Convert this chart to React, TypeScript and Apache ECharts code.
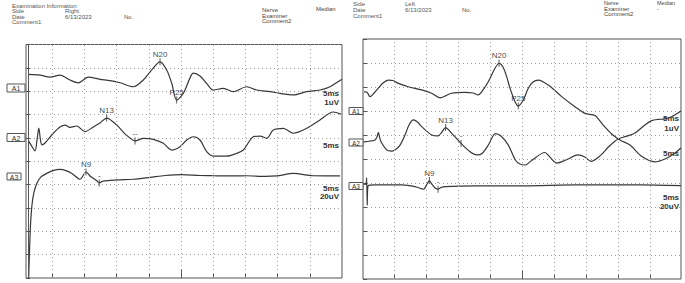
import React, { useEffect, useRef } from "react";
import * as echarts from "echarts";

type Pt = [number, number];

// time in ms (0–50, 5 ms/div), amplitude in grid divisions (0 bottom – 10 top)
const leftA1: Pt[] = [
  [1.3, 8.72], [3.11, 8.69], [4.66, 8.6], [6.21, 8.69], [7.76, 8.48], [9.05, 8.36], [10.61, 8.6],
  [12.42, 8.51], [13.98, 8.45], [15.53, 8.36], [17.59, 8.19], [19.15, 8.48], [20.45, 8.91],
  [21.74, 9.26], [22.78, 8.91], [23.56, 8.34], [24.33, 7.62], [25.36, 7.91], [26.4, 8.57],
  [26.91, 8.77], [27.95, 8.65], [29.04, 8.31], [30.01, 8.05], [31.57, 8.12], [33.12, 7.98],
  [35.2, 8.19], [36.75, 8.05], [38.82, 7.98], [40.37, 7.91], [42.44, 7.84], [44.52, 7.98],
  [46.58, 8.05], [48.14, 8.19], [49.69, 8.46], [50, 8.5],
];
const leftA2: Pt[] = [
  [1.32, 5.87], [1.82, 5.65], [2.33, 5.44], [2.64, 5.91], [2.92, 6.42], [3.18, 5.91], [3.42, 5.7],
  [3.88, 5.78], [5.17, 6.2], [6.21, 6.47], [6.99, 6.55], [7.76, 6.45], [8.8, 6.51], [10.09, 6.27],
  [11.38, 6.47], [12.42, 6.64], [13.46, 6.85], [15.02, 6.55], [16.3, 6.17], [17.34, 5.94],
  [17.86, 5.87], [19.15, 5.98], [20.7, 5.94], [22.25, 5.77], [23.56, 5.48], [24.84, 5.62],
  [25.89, 5.91], [26.91, 6.05], [27.95, 5.91], [28.99, 5.41], [30.02, 5.22], [32.1, 5.22],
  [33.65, 5.34], [34.67, 5.48], [36.23, 6.05], [37.27, 6.08], [38.31, 5.98], [39.33, 6.34],
  [40.89, 6.41], [42.44, 6.2], [44.52, 6.41], [46.58, 6.77], [48.65, 7.11], [49.84, 7.02],
];
const leftA3: Pt[] = [
  [1.29, -0.5], [1.48, 1.2], [1.63, 2.27], [1.86, 3.13], [2.17, 3.68], [2.64, 4.07], [3.26, 4.33],
  [4.15, 4.48], [5.12, 4.6], [6.21, 4.65], [7.14, 4.6], [8.07, 4.48], [9.32, 4.23], [10.25, 4.54],
  [10.87, 4.37], [11.38, 4.27], [11.96, 4.15], [12.31, 4.07], [12.89, 4.15], [15.02, 4.2],
  [17.59, 4.23], [20.19, 4.31], [22.52, 4.39], [25.11, 4.43], [27.95, 4.39], [30.02, 4.38],
  [33.07, 4.37], [35.2, 4.38], [38.04, 4.35], [39.86, 4.37], [42.44, 4.48], [45.54, 4.38],
  [49.69, 4.37],
];
const rightA1: Pt[] = [
  [0.31, 7.8], [0.73, 7.79], [1.25, 7.6], [1.88, 7.75], [2.55, 7.95], [3.28, 8.17], [4.11, 8.29],
  [4.84, 8.27], [5.67, 8.15], [7.23, 8.01], [9.33, 7.88], [10.89, 7.74], [12.19, 7.55],
  [13.95, 7.74], [16.09, 7.78], [17.34, 7.75], [18.17, 7.67], [18.91, 7.88], [19.73, 8.22],
  [20.78, 8.78], [21.41, 8.99], [22.03, 8.83], [22.66, 8.38], [23.13, 7.95], [23.91, 7.39],
  [24.42, 7.21], [25.2, 7.46], [25.98, 7.95], [26.72, 8.21], [27.58, 8.29], [29.11, 8.08],
  [31.2, 7.6], [33.28, 7.18], [34.84, 6.9], [36.41, 6.81], [37.66, 6.42], [39.02, 6.04],
  [40.31, 5.79], [41.88, 5.58], [43.75, 5.1], [45.78, 4.88], [47.34, 5.0], [48.91, 5.25],
  [49.84, 5.46],
];
const rightA2: Pt[] = [
  [0.31, 5.71], [1.25, 5.75], [2.03, 5.79], [2.34, 5.92], [2.55, 6.11], [2.73, 5.92], [2.97, 5.72],
  [3.86, 5.38], [4.53, 5.33], [5.16, 5.38], [5.94, 5.58], [6.72, 6.0], [7.34, 6.42], [8.02, 6.63],
  [8.67, 6.54], [9.33, 6.35], [10.89, 6.0], [11.88, 5.96], [12.5, 6.13], [13.05, 6.31],
  [14.02, 6.07], [14.69, 5.88], [15.47, 5.65], [16.88, 5.3], [17.97, 5.17], [18.75, 5.23],
  [19.73, 5.58], [20.86, 6.06], [21.72, 5.96], [22.86, 5.58], [23.95, 4.96], [24.69, 4.79],
  [25.52, 4.75], [26.41, 4.92], [28.59, 5.27], [29.06, 5.17], [30.47, 4.83], [31.88, 4.96],
  [33.75, 5.17], [34.84, 5.08], [35.78, 4.9], [37.19, 5.13], [38.55, 5.51], [40.0, 5.83],
  [41.25, 5.94], [42.66, 6.08], [44.22, 6.42], [45.27, 6.6], [46.25, 6.65], [47.34, 6.67],
  [48.44, 6.77], [49.84, 7.0],
];
const rightA3: Pt[] = [
  [0.31, 3.94], [0.63, 3.96], [0.72, 4.21], [0.81, 3.08], [0.94, 3.88], [2.03, 3.92], [6.25, 3.92],
  [8.28, 3.85], [9.64, 3.74], [10.08, 3.92], [10.52, 4.1], [10.94, 3.94], [11.45, 3.78],
  [11.88, 3.74], [12.34, 3.81], [13.02, 3.85], [17.66, 3.88], [25.47, 3.88], [33.28, 3.92],
  [43.75, 3.92], [49.84, 3.89],
];

const leftMarkerNames = ["N20", "P25", "N13", "--", "N9", "-"];
const leftMarkerTimes = [21.74, 24.33, 13.46, 17.86, 10.25, 12.31];
const leftMarkerValues = [9.26, 7.62, 6.85, 5.87, 4.54, 4.07];
const rightMarkerNames = ["N20", "P25", "N13", "-", "N9", "-"];
const rightMarkerTimes = [21.41, 24.42, 13.05, 15.47, 10.52, 11.88];
const rightMarkerValues = [8.99, 7.21, 6.31, 5.65, 4.1, 3.74];

const gridTimes = [5, 10, 15, 20, 25, 30, 35, 40, 45];

const FONT = "Liberation Sans, Arial, sans-serif";
const TRACE = "#383838";
const GRID = "#a0a0a0";
const FRAME = "#555";
const DOTS = [1, 3];

function txt(text: string, x: number, y: number, size = 6, color = "#555", align = "left", weight = "normal") {
  return {
    type: "text",
    x,
    y,
    silent: true,
    style: {
      text,
      fontSize: size,
      fontFamily: FONT,
      fontWeight: weight,
      fill: color,
      textAlign: align,
      textVerticalAlign: "middle",
    },
  };
}

function chBox(label: string, x: number, y: number, w: number, h: number, size: number) {
  return [
    { type: "rect", shape: { x, y, width: w, height: h }, silent: true, style: { fill: "#fff", stroke: FRAME, lineWidth: 1 } },
    txt(label, x + w / 2, y + h / 2 + 0.5, size, "#333", "center"),
  ];
}

export default function App() {
  const ref = useRef<HTMLDivElement>(null);
  useEffect(() => {
    document.body.style.margin = "0";
    if (!ref.current) return;
    const chart = echarts.init(ref.current, undefined, { renderer: "svg" });

    const lineCommon = {
      type: "line",
      showSymbol: false,
      smooth: 0.3,
      lineStyle: { color: TRACE, width: 1.2 },
      silent: true,
    };
    const gridMarkLine = (extra: any[]) => ({
      silent: true,
      symbol: "none",
      label: { show: false },
      data: [
        ...gridTimes.map((t) => ({ xAxis: t, lineStyle: { type: DOTS, color: GRID, width: 1 } })),
        ...extra,
      ],
    });
    const markerSeries = (idx: number, names: string[], times: number[], values: number[]) => ({
      type: "scatter",
      xAxisIndex: idx,
      yAxisIndex: idx,
      silent: true,
      symbol: "rect",
      symbolSize: [1, 7],
      itemStyle: { color: "#333" },
      label: {
        show: true,
        position: "top",
        distance: 0,
        formatter: "{b}",
        fontSize: 8,
        fontFamily: FONT,
        color: "#111",
        textBorderWidth: 0,
        textBorderColor: "transparent",
      },
      data: names.map((n, i) => ({
        name: n,
        value: [times[i], values[i]],
        itemStyle: { color: "#333" },
        label: { color: "#111" },
      })),
    });

    const xAx = (idx: number, min: number, max: number) => ({
      gridIndex: idx,
      type: "value",
      min,
      max,
      axisLine: { show: false },
      axisLabel: { show: false },
      axisTick: { show: true, inside: true, length: 4, customValues: gridTimes, lineStyle: { color: FRAME } },
      splitLine: { show: false },
    });
    const yAx = (idx: number) => ({
      gridIndex: idx,
      type: "value",
      min: 0,
      max: 10,
      interval: 1,
      axisLine: { show: false },
      axisLabel: { show: false },
      axisTick: { show: true, inside: true, length: 4, lineStyle: { color: FRAME } },
      splitLine: { show: true, lineStyle: { type: DOTS, color: GRID, width: 1 } },
    });

    const midTick = (t: number) => [
      { coord: [t, 0], lineStyle: { type: "solid", color: FRAME, width: 1 } },
      { coord: [t, 0.35] },
    ];

    const option: any = {
      animation: false,
      backgroundColor: "#fff",
      color: ["#333"],
      grid: [
        { left: 26, top: 44.5, width: 316, height: 233.5, show: true, borderColor: FRAME, borderWidth: 1, backgroundColor: "transparent" },
        { left: 363, top: 39, width: 318, height: 240, show: true, borderColor: FRAME, borderWidth: 1, backgroundColor: "transparent" },
      ],
      xAxis: [xAx(0, 0.93, 50), xAx(1, 0.15, 49.85)],
      yAxis: [yAx(0), yAx(1)],
      series: [
        {
          ...lineCommon,
          xAxisIndex: 0,
          yAxisIndex: 0,
          data: leftA1,
          markLine: gridMarkLine([
            { xAxis: 1.32, lineStyle: { type: "solid", color: FRAME, width: 1 } },
            midTick(25),
          ]),
        },
        { ...lineCommon, xAxisIndex: 0, yAxisIndex: 0, data: leftA2 },
        { ...lineCommon, xAxisIndex: 0, yAxisIndex: 0, data: leftA3 },
        {
          ...lineCommon,
          xAxisIndex: 1,
          yAxisIndex: 1,
          data: rightA1,
          markLine: gridMarkLine([midTick(25)]),
        },
        { ...lineCommon, xAxisIndex: 1, yAxisIndex: 1, data: rightA2 },
        { ...lineCommon, xAxisIndex: 1, yAxisIndex: 1, data: rightA3, smooth: 0.2 },
        markerSeries(0, leftMarkerNames, leftMarkerTimes, leftMarkerValues),
        markerSeries(1, rightMarkerNames, rightMarkerTimes, rightMarkerValues),
      ],
      graphic: [
        // left header
        txt("Examination Information", 12, 5.5),
        txt("Side", 12, 11),
        txt("Right", 65, 11),
        txt("Date", 12, 16.5),
        txt("6/13/2023", 65, 16.5),
        txt("No.", 124, 17),
        txt("Comment1", 12, 22),
        txt("Nerve", 262, 10, 6, "#444"),
        txt("Median", 316, 9, 6, "#444"),
        txt("Examiner", 262, 15.5, 6, "#444"),
        txt("Comment2", 262, 21, 6, "#444"),
        // right header
        txt("Side", 353, 3.5),
        txt("Left", 405, 3.5),
        txt("Date", 353, 9.5),
        txt("6/13/2023", 405, 9.5),
        txt("No.", 462, 9.5),
        txt("Comment1", 353, 15.5),
        txt("Nerve", 604, 3.2, 5.5, "#444"),
        txt("Median", 657, 3.2, 5.5, "#444"),
        txt("Examiner", 604, 8.5, 6, "#444"),
        txt("-", 657, 9, 6, "#444"),
        txt("Comment2", 604, 14, 6, "#444"),
        // channel boxes
        ...chBox("A1", 7, 84, 18, 8, 7),
        ...chBox("A2", 7, 133.5, 18, 8, 7),
        ...chBox("A3", 7, 173, 14, 7, 7),
        ...chBox("A1", 349, 107.5, 14, 7, 6.5),
        ...chBox("A2", 349, 139, 14, 7, 6.5),
        ...chBox("A3", 349, 182.5, 14, 7, 6.5),
        // sweep / sensitivity labels
        txt("5ms", 339, 93.5, 8, "#333", "right", "bold"),
        txt("1uV", 339, 102, 8, "#333", "right", "bold"),
        txt("5ms", 339, 145, 8, "#333", "right", "bold"),
        txt("5ms", 339, 188, 8, "#333", "right", "bold"),
        txt("20uV", 339, 196.5, 8, "#333", "right", "bold"),
        txt("5ms", 679, 118.5, 8, "#333", "right", "bold"),
        txt("1uV", 679, 128, 8, "#333", "right", "bold"),
        txt("5ms", 679, 153.5, 8, "#333", "right", "bold"),
        txt("5ms", 679, 197.5, 8, "#333", "right", "bold"),
        txt("20uV", 679, 206, 8, "#333", "right", "bold"),
      ],
    };
    chart.setOption(option);
    return () => chart.dispose();
  }, []);
  return <div ref={ref} style={{ width: 685, height: 283 }} />;
}
